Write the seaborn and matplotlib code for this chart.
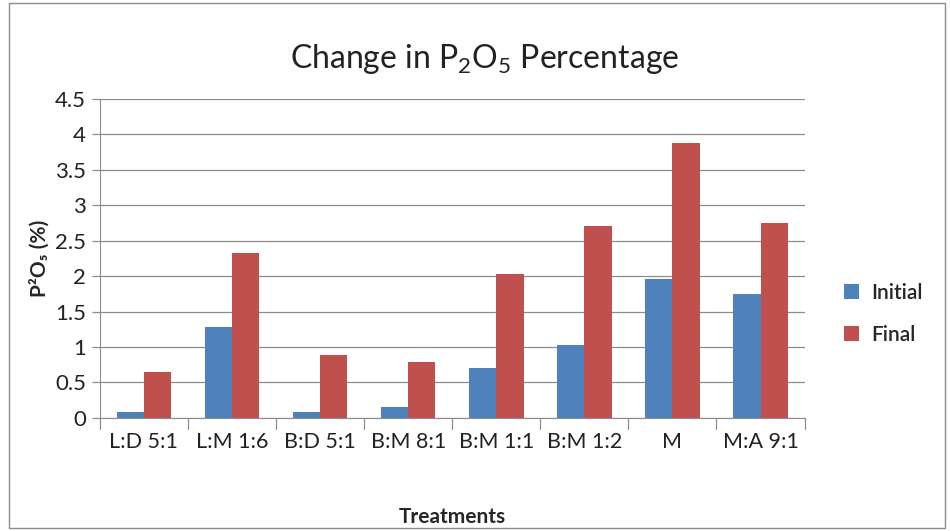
import numpy as np
import pandas as pd
import matplotlib
matplotlib.use("Agg")
import matplotlib.pyplot as plt
import seaborn as sns
from matplotlib.patches import Rectangle

treatments = ["L:D 5:1", "L:M 1:6", "B:D 5:1", "B:M 8:1", "B:M 1:1", "B:M 1:2", "M", "M:A 9:1"]
initial = [0.08, 1.28, 0.08, 0.16, 0.70, 1.03, 1.96, 1.75]
final = [0.65, 2.32, 0.88, 0.79, 2.03, 2.70, 3.87, 2.75]
yticks = [0, 0.5, 1, 1.5, 2, 2.5, 3, 3.5, 4, 4.5]
ytick_labels = ["0", "0.5", "1", "1.5", "2", "2.5", "3", "3.5", "4", "4.5"]

df = pd.DataFrame({
    "Treatments": treatments * 2,
    "value": initial + final,
    "series": ["Initial"] * len(treatments) + ["Final"] * len(treatments),
})

sns.set_style("white")
plt.rcParams["font.family"] = ["Lato", "DejaVu Sans"]
plt.rcParams["mathtext.fontset"] = "custom"
plt.rcParams["mathtext.rm"] = "Lato"
plt.rcParams["mathtext.bf"] = "Lato:bold"

fig = plt.figure(figsize=(9.51, 5.31), dpi=100)
ax = fig.add_axes([0.105, 0.213, 0.741, 0.601])

sns.barplot(data=df, x="Treatments", y="value", hue="series",
            palette={"Initial": "#4F81BD", "Final": "#C0504D"},
            width=0.62, gap=0, saturation=1, linewidth=0, ax=ax)

ax.set_ylim(0, 4.5)
ax.set_xlim(-0.5, len(treatments) - 0.5)
ax.set_yticks(yticks)
ax.set_yticklabels(ytick_labels, fontsize=16, color="#222222")
ax.yaxis.grid(True, color="#8c8c8c", linewidth=0.9)
ax.set_axisbelow(True)

# excel-like tick marks between categories
ax.set_xticks(np.arange(len(treatments)))
ax.set_xticklabels(treatments, fontsize=15.5, color="#222222")
ax.tick_params(axis="x", length=0, pad=10)
for xb in np.arange(-0.5, len(treatments), 1.0):
    ax.plot([xb, xb], [0, -0.16], color="#8c8c8c", lw=0.9, clip_on=False)
ax.tick_params(axis="y", length=6, color="#8c8c8c", width=0.9, left=True, pad=4)

for s in ["top", "right"]:
    ax.spines[s].set_visible(False)
ax.spines["left"].set_color("#8c8c8c")
ax.spines["bottom"].set_color("#8c8c8c")

ax.set_title(r"Change in P$_2$O$_5$ Percentage", fontsize=23, color="#222222",
             pad=22, x=0.546)
ax.set_xlabel("Treatments", fontsize=15, fontweight="bold", labelpad=40)
ax.set_ylabel("P²O₅ (%)", fontsize=15, fontweight="bold", labelpad=4)

leg = ax.legend(loc="center left", bbox_to_anchor=(1.03, 0.326), frameon=False,
                fontsize=15, handlelength=0.7, handleheight=0.7, labelspacing=1.05,
                handletextpad=0.6)
for t in leg.get_texts():
    t.set_fontweight("semibold")

fig.patches.append(Rectangle((0.009, 0.005), 0.985, 0.99, transform=fig.transFigure,
                             fill=False, edgecolor="#8c8c8c", linewidth=1))

fig.savefig("out.png", dpi=100)
